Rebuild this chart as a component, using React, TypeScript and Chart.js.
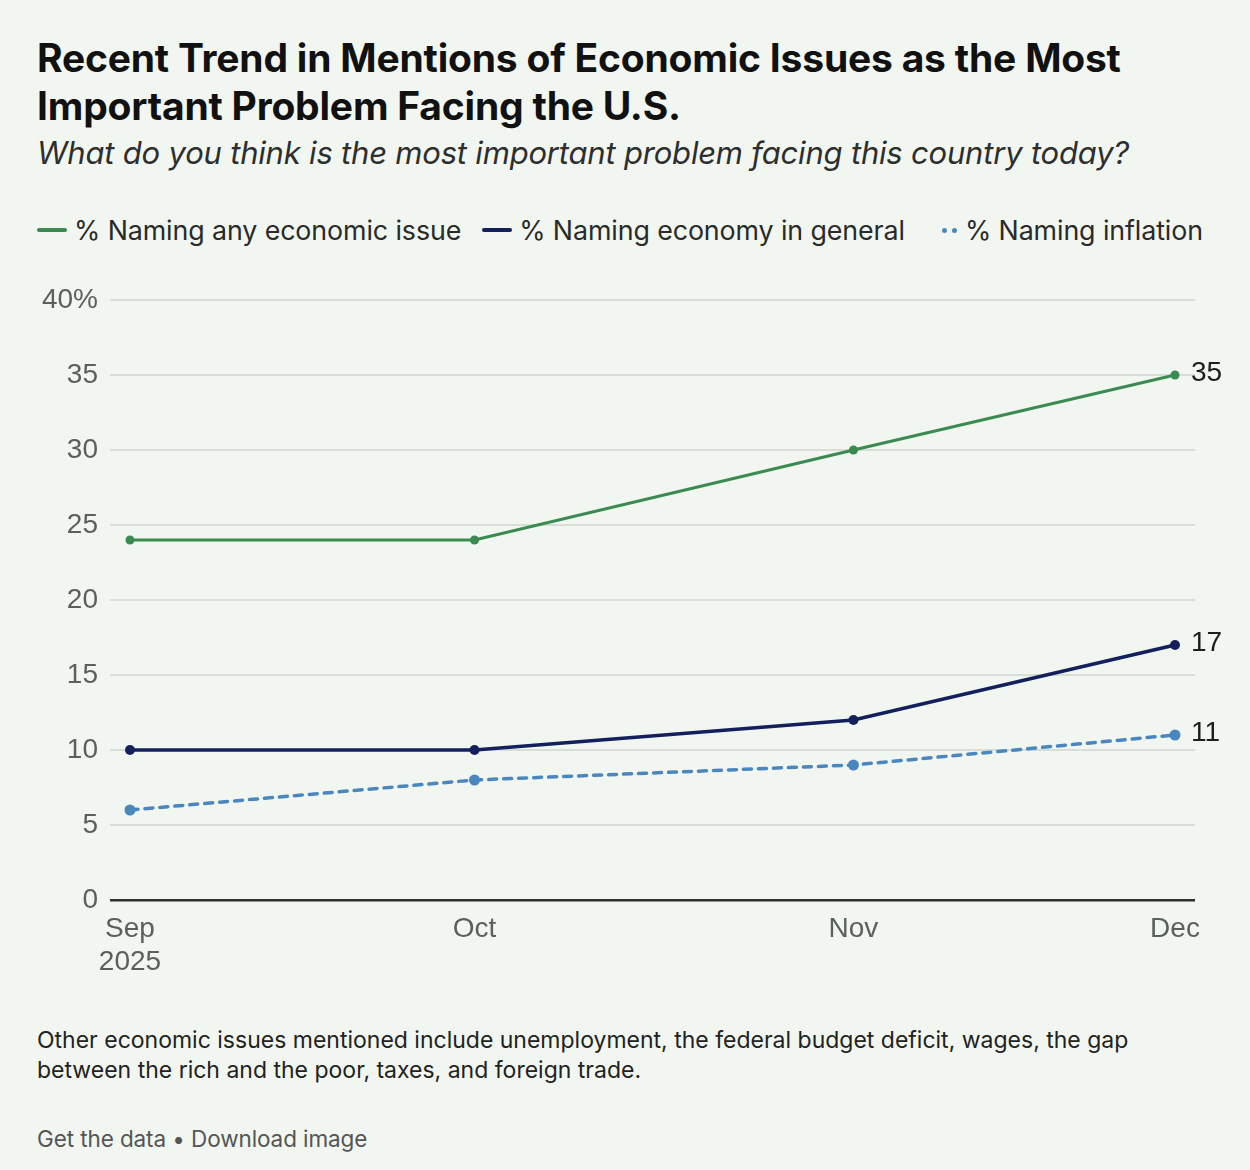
import React, { useEffect, useRef } from 'react';
import Chart from 'chart.js/auto';

// ---- Data ----
const surveyDays = [0, 30, 63, 91]; // days since Sep 1, 2025
const monthLabels: (string | string[])[] = [['Sep', '2025'], 'Oct', 'Nov', 'Dec'];
const anyEconomicIssue = [24, 24, 30, 35];
const economyInGeneral = [10, 10, 12, 17];
const inflationMentions = [6, 8, 9, 11];
const yTickValues = [0, 5, 10, 15, 20, 25, 30, 35, 40];
const seriesNames = ['% Naming any economic issue', '% Naming economy in general', '% Naming inflation'];

const GREEN = '#3a8a52';
const NAVY = '#13205c';
const BLUE = '#4a87bf';
const BG = '#f1f7f0';
const TICK_FONT = '"Liberation Sans", Arial, sans-serif';

const endLabelPlugin = {
  id: 'endLabels',
  afterDatasetsDraw(chart: any) {
    const ctx = chart.ctx;
    ctx.save();
    ctx.font = `28px ${TICK_FONT}`;
    ctx.fillStyle = '#1d1d1d';
    ctx.textAlign = 'left';
    ctx.textBaseline = 'middle';
    chart.data.datasets.forEach((ds: any, i: number) => {
      const meta = chart.getDatasetMeta(i);
      const pt = meta.data[meta.data.length - 1];
      if (!pt) return;
      const v = ds.data[ds.data.length - 1].y;
      ctx.fillText(String(v), pt.x + 16, pt.y - 2);
    });
    ctx.restore();
  },
};

function ChartCanvas() {
  const ref = useRef<HTMLCanvasElement | null>(null);
  useEffect(() => {
    if (!ref.current) return;
    const toPts = (arr: number[]) => arr.map((y, i) => ({ x: surveyDays[i], y }));
    const chart = new Chart(ref.current, {
      type: 'line',
      data: {
        datasets: [
          {
            label: seriesNames[0],
            data: toPts(anyEconomicIssue),
            borderColor: GREEN,
            backgroundColor: GREEN,
            borderWidth: 3,
            pointRadius: 4.5,
            pointBorderWidth: 0,
          },
          {
            label: seriesNames[1],
            data: toPts(economyInGeneral),
            borderColor: NAVY,
            backgroundColor: NAVY,
            borderWidth: 3.5,
            pointRadius: 5,
            pointBorderWidth: 0,
          },
          {
            label: seriesNames[2],
            data: toPts(inflationMentions),
            borderColor: BLUE,
            backgroundColor: BLUE,
            borderWidth: 3.5,
            borderDash: [8, 7],
            borderCapStyle: 'round',
            pointRadius: 5.5,
            pointBorderWidth: 0,
          },
        ],
      },
      options: {
        animation: false,
        responsive: true,
        maintainAspectRatio: false,
        layout: { padding: { top: 30, right: 55, left: 0, bottom: 0 } },
        plugins: { legend: { display: false }, tooltip: { enabled: false } },
        scales: {
          x: {
            type: 'linear',
            min: -1.74,
            max: 92.74,
            grid: { display: false, drawTicks: false },
            border: { display: false },
            afterBuildTicks: (scale: any) => {
              scale.ticks = surveyDays.map((v) => ({ value: v }));
            },
            afterFit: (scale: any) => {
              scale.height = 90;
            },
            ticks: {
              autoSkip: false,
              maxRotation: 0,
              padding: 12,
              color: '#5b605b',
              font: { family: TICK_FONT, size: 28 },
              callback: (_v: any, i: number) => monthLabels[i] as any,
            },
          },
          y: {
            min: 0,
            max: 40,
            afterBuildTicks: (scale: any) => {
              scale.ticks = yTickValues.map((v) => ({ value: v }));
            },
            afterFit: (scale: any) => {
              scale.width = 110;
            },
            border: { display: false },
            grid: {
              drawTicks: false,
              color: (c: any) => (c.tick && c.tick.value === 0 ? '#2c2f2c' : '#d9ddd8'),
              lineWidth: (c: any) => (c.tick && c.tick.value === 0 ? 2.5 : 2),
            },
            ticks: {
              padding: 12,
              color: '#5b605b',
              font: { family: TICK_FONT, size: 28 },
              callback: (v: any) => (v === 40 ? '40%' : String(v)),
            },
          },
        },
      },
      plugins: [endLabelPlugin],
    } as any);
    return () => chart.destroy();
  }, []);
  return <canvas ref={ref} />;
}

export default function App() {
  const font = 'Inter, "Noto Sans", sans-serif';
  return (
    <div style={{ position: 'fixed', left: 0, top: 0, width: 1250, height: 1170, background: BG, fontFamily: font, overflow: 'hidden' }}>
      <div style={{ position: 'absolute', left: 37, top: 34, width: 1210, fontSize: 39, fontWeight: 700, lineHeight: '48px', color: '#111', letterSpacing: -0.2, whiteSpace: 'nowrap' }}>
        Recent Trend in Mentions of Economic Issues as the Most<br />Important Problem Facing the U.S.
      </div>
      <div style={{ position: 'absolute', left: 37, top: 134, fontSize: 31, fontStyle: 'italic', color: '#2e2e2e', letterSpacing: -0.2, whiteSpace: 'nowrap' }}>
        What do you think is the most important problem facing this country today?
      </div>
      <div style={{ position: 'absolute', left: 37, top: 214, display: 'flex', alignItems: 'center', fontSize: 26.8, color: '#2a2a2a', letterSpacing: -0.1, whiteSpace: 'nowrap' }}>
        <span style={{ display: 'inline-block', width: 30, height: 4, borderRadius: 2, background: GREEN, marginRight: 7 }} />
        <span style={{ marginRight: 21 }}>{seriesNames[0]}</span>
        <span style={{ display: 'inline-block', width: 30, height: 4, borderRadius: 2, background: NAVY, marginRight: 7 }} />
        <span style={{ marginRight: 37 }}>{seriesNames[1]}</span>
        <span style={{ display: 'inline-block', width: 5, height: 5, borderRadius: 3, background: BLUE, marginRight: 5 }} />
        <span style={{ display: 'inline-block', width: 5, height: 5, borderRadius: 3, background: BLUE, marginRight: 8 }} />
        <span>{seriesNames[2]}</span>
      </div>
      <div style={{ position: 'absolute', left: 0, top: 270, width: 1250, height: 720 }}>
        <ChartCanvas />
      </div>
      <div style={{ position: 'absolute', left: 37, top: 1025, width: 1200, fontSize: 23, lineHeight: '30px', color: '#222', whiteSpace: 'nowrap' }}>
        Other economic issues mentioned include unemployment, the federal budget deficit, wages, the gap<br />between the rich and the poor, taxes, and foreign trade.
      </div>
      <div style={{ position: 'absolute', left: 37, top: 1125, fontSize: 22.5, color: '#555', letterSpacing: -0.1 }}>
        Get the data • Download image
      </div>
    </div>
  );
}
